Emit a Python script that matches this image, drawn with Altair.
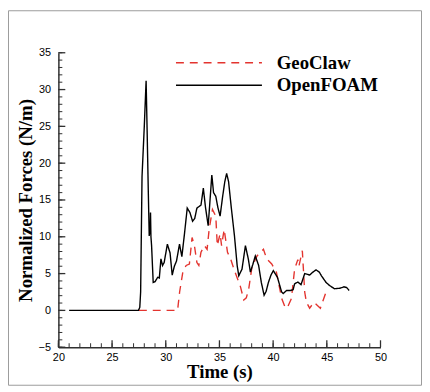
import altair as alt
import pandas as pd

# ---- data ----
t_openfoam = [21, 27.45, 27.58, 27.66, 27.79, 28.0, 28.17, 28.27, 28.37, 28.46, 28.5, 28.54,
              28.58, 28.62, 28.68, 28.83, 29.0, 29.25, 29.4, 29.55, 29.7, 29.85, 30.15, 30.4,
              30.6, 30.8, 31.0, 31.28, 31.5, 31.75, 32.0, 32.25, 32.5, 32.7, 32.9, 33.28, 33.5,
              33.7, 33.95, 34.1, 34.29, 34.45, 34.66, 34.85, 35.06, 35.3, 35.5, 35.67, 35.85,
              36.1, 36.4, 36.65, 36.8, 37.1, 37.42, 37.7, 37.88, 38.1, 38.34, 38.65, 38.9,
              39.16, 39.35, 39.56, 39.8, 40.02, 40.4, 40.79, 40.94, 41.25, 41.6, 41.86, 42.0,
              42.3, 42.6, 42.94, 43.2, 43.4, 43.7, 44.0, 44.3, 44.5, 44.93, 45.24, 45.7, 46.2,
              46.6, 46.85, 47.08]
f_openfoam = [0, 0, 0.4, 2.5, 18.2, 25, 31.2, 24, 16.4, 10.1, 12, 10.3,
              13.3, 10, 8.8, 3.8, 3.9, 4.5, 4.4, 7.0, 6.1, 6.5, 9.0, 7.8,
              4.8, 6.0, 6.7, 9.0, 7.3, 10.5, 13.9, 13.3, 12.1, 12.5, 13.9, 14.3, 16.6,
              14.0, 11.5, 14.5, 18.4, 16.0, 15.5, 14.0, 12.8, 15.5, 17.5, 18.6, 17.5,
              14.0, 10.1, 6.1, 4.7, 5.6, 8.8, 6.9, 5.2, 6.2, 7.4, 6.1, 3.8,
              2.05, 2.6, 3.8, 4.8, 5.4, 4.5, 2.5, 2.3, 2.7, 2.7, 2.8, 3.6,
              3.85, 3.5, 5.0, 4.9, 4.8, 5.2, 5.5, 5.2, 4.7, 3.8, 3.4, 2.95, 3.0,
              3.2, 3.1, 2.7]

t_geoclaw = [27.5, 31.1, 31.29, 31.6, 31.9, 32.2, 32.45, 32.67, 32.9, 33.08, 33.28, 33.6,
             33.85, 34.04, 34.35, 34.66, 34.8, 35.06, 35.2, 35.44, 35.75, 36.04, 36.35,
             36.96, 37.27, 37.5, 37.73, 38.03, 38.5, 39.1, 39.4, 39.87, 40.3, 40.8, 41.1,
             41.3, 41.7, 42.0, 42.3, 42.4, 42.72, 42.94, 43.1, 43.4, 43.8, 44.1, 44.4, 44.93]
f_geoclaw = [0, 0, 2.5, 5.3, 6.1, 6.3, 9.9, 8.8, 6.5, 6.1, 7.9, 8.8,
             8.3, 11.0, 13.7, 12.8, 8.8, 10.4, 8.8, 11, 7.9, 7.0, 5.6,
             3.2, 1.4, 1.7, 2.95, 5.9, 7.4, 8.3, 7.0, 6.3, 5.2, 1.6, 0.5,
             0.3, 1.6, 5.6, 6.9, 6.0, 8.1, 2.5, 1.1, 0.3, 1.1, 0.7, 0.3, 2.5]

series_names = ["GeoClaw", "OpenFOAM"]
series_colors = ["#e3342f", "#000000"]
series_dash = [[8, 6], [1, 0]]
x_ticks = list(range(20, 51, 5))
x_minor = list(range(20, 51, 1))
y_ticks = list(range(-5, 36, 5))
y_minor = list(range(-5, 36, 1))

df = pd.concat([
    pd.DataFrame({"t": t_geoclaw, "f": f_geoclaw, "series": "GeoClaw"}),
    pd.DataFrame({"t": t_openfoam, "f": f_openfoam, "series": "OpenFOAM"}),
], ignore_index=True)
df["idx"] = range(len(df))

W, H = 326, 298
PAD_L, PAD_T, PAD_R, PAD_B = 51, 43, 42, 39
xscale = alt.Scale(domain=[20, 50], nice=False, zero=False)
yscale = alt.Scale(domain=[-5, 35], nice=False, zero=False)
cscale = alt.Scale(domain=series_names, range=series_colors)
dscale = alt.Scale(domain=series_names, range=series_dash)

tick_font = "Liberation Sans"
title_font = "Liberation Serif"
axis_col = "#303030"

xaxis = alt.Axis(
    values=x_ticks, title="Time (s)", ticks=False, tickSize=0, grid=False,
    domainColor=axis_col, domainWidth=1.5, labelPadding=4, labelFlush=False,
    labelFont=tick_font, labelFontSize=11, labelColor="black",
    titleFont=title_font, titleFontSize=19, titleFontWeight="bold",
    titleColor="black", titlePadding=1)
yaxis = alt.Axis(
    values=y_ticks, title="Normalized Forces (N/m)", ticks=False, tickSize=0,
    grid=False, domainColor=axis_col, domainWidth=1.5, labelPadding=8, labelFlush=False,
    labelFont=tick_font, labelFontSize=11, labelColor="black",
    titleFont=title_font, titleFontSize=19, titleFontWeight="bold",
    titleColor="black", titlePadding=3)

lines = alt.Chart(df).mark_line(strokeWidth=1.4, clip=True).encode(
    x=alt.X("t:Q", scale=xscale, axis=xaxis),
    y=alt.Y("f:Q", scale=yscale, axis=yaxis),
    color=alt.Color("series:N", scale=cscale, legend=None),
    strokeDash=alt.StrokeDash("series:N", scale=dscale, legend=None),
    order="idx:Q",
)

# inward tick marks, placed through the scales
ytick_minor = alt.Chart(pd.DataFrame({"v": y_minor})).mark_rule(
    color=axis_col, strokeWidth=1).encode(
    y=alt.Y("v:Q", scale=yscale, axis=yaxis), x=alt.value(0), x2=alt.value(4))
ytick_major = alt.Chart(pd.DataFrame({"v": y_ticks})).mark_rule(
    color=axis_col, strokeWidth=1.3).encode(
    y=alt.Y("v:Q", scale=yscale, axis=yaxis), x=alt.value(0), x2=alt.value(7))
xtick_minor = alt.Chart(pd.DataFrame({"v": x_minor})).mark_rule(
    color=axis_col, strokeWidth=1).encode(
    x=alt.X("v:Q", scale=xscale, axis=xaxis), y=alt.value(H), y2=alt.value(H - 4))
xtick_major = alt.Chart(pd.DataFrame({"v": x_ticks})).mark_rule(
    color=axis_col, strokeWidth=1.3).encode(
    x=alt.X("v:Q", scale=xscale, axis=xaxis), y=alt.value(H), y2=alt.value(H - 7))

# legend drawn by hand
leg_rows = []
for i, name in enumerate(series_names):
    row = pd.DataFrame({"series": [name]})
    seg = alt.Chart(row).mark_rule(strokeWidth=1.5).encode(
        x=alt.value(119), x2=alt.value(206), y=alt.value(10 + 23 * i),
        color=alt.Color("series:N", scale=cscale, legend=None),
        strokeDash=alt.StrokeDash("series:N", scale=dscale, legend=None),
    )
    txt = alt.Chart(row).mark_text(
        align="left", baseline="middle", font=title_font, fontSize=19,
        fontWeight="bold", color="black").encode(
        x=alt.value(221), y=alt.value(10 + 23 * i), text="series:N")
    leg_rows += [seg, txt]

# thin grey frame around the whole figure
frame = alt.Chart(pd.DataFrame({"k": [0]})).mark_rect(
    fill="white", fillOpacity=0, stroke="#9a9a9a", strokeWidth=1).encode(
    x=alt.value(-PAD_L + 0.5), x2=alt.value(W + PAD_R - 0.5),
    y=alt.value(-PAD_T + 0.5), y2=alt.value(H + PAD_B - 0.5))

chart = alt.layer(frame, ytick_minor, ytick_major, xtick_minor, xtick_major,
                  lines, *leg_rows).properties(
    width=W, height=H,
    autosize=alt.AutoSizeParams(type="none"),
    padding={"left": PAD_L, "top": PAD_T, "right": PAD_R, "bottom": PAD_B},
).configure_view(stroke=None)

chart.save("out.html", embed_options={"renderer": "svg", "actions": False})
